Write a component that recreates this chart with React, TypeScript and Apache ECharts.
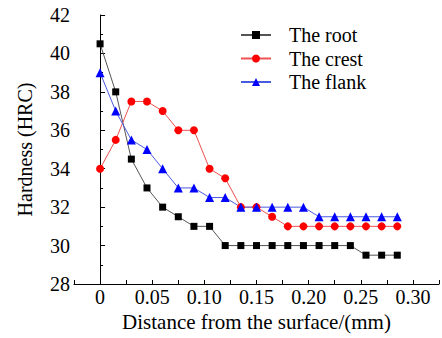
import React, { useEffect, useRef } from "react";
import * as echarts from "echarts";

const distances = [0, 0.015, 0.03, 0.045, 0.06, 0.075, 0.09, 0.105, 0.12, 0.135, 0.15, 0.165, 0.18, 0.195, 0.21, 0.225, 0.24, 0.255, 0.27, 0.285];
const rootValues = [40.5, 38, 34.5, 33, 32, 31.5, 31, 31, 30, 30, 30, 30, 30, 30, 30, 30, 30, 29.5, 29.5, 29.5];
const crestValues = [34, 35.5, 37.5, 37.5, 37, 36, 36, 34, 33.5, 32, 32, 31.5, 31, 31, 31, 31, 31, 31, 31, 31];
const flankValues = [39, 37, 35.5, 35, 34, 33, 33, 32.5, 32.5, 32, 32, 32, 32, 32, 31.5, 31.5, 31.5, 31.5, 31.5, 31.5];
const seriesNames = ["The root", "The crest", "The flank"];

const FONT = "Liberation Serif";
const FS = 20;

export default function App() {
  const ref = useRef<HTMLDivElement>(null);
  useEffect(() => {
    document.body.style.margin = "0";
    const chart = echarts.init(ref.current!, null, { renderer: "svg" });
    const pair = (vals: number[]) => distances.map((d, i) => [d, vals[i]]);
    chart.setOption({
      animation: false,
      grid: { left: 74, right: 1, top: 15, bottom: 54 },
      legend: {
        orient: "vertical",
        left: 240,
        top: 25,
        padding: 0,
        itemWidth: 30,
        itemHeight: 10,
        itemGap: 3.5,
        textStyle: { fontFamily: FONT, fontSize: FS, color: "#000", padding: [0, 0, 0, 13], lineHeight: 20 },
        data: seriesNames,
      },
      xAxis: {
        type: "value",
        min: -0.025,
        max: 0.325,
        interval: 0.025,
        splitLine: { show: false },
        axisLine: { onZero: false, lineStyle: { color: "#000", width: 1 } },
        axisTick: { inside: true, length: 4, lineStyle: { color: "#000" } },
        axisLabel: {
          fontFamily: FONT,
          fontSize: FS,
          color: "#000",
          margin: 3,
          showMinLabel: true,
          showMaxLabel: true,
          formatter: (v: number) => {
            const k = Math.round(v * 1000);
            if (k < 0 || k % 50 !== 0) return "";
            return k === 0 ? "0" : (k / 1000).toFixed(2);
          },
        },
        name: "Distance from the surface/(mm)",
        nameLocation: "middle",
        nameGap: 23,
        nameTextStyle: { fontFamily: FONT, fontSize: 21, color: "#000" },
      },
      yAxis: {
        type: "value",
        min: 28,
        max: 42,
        interval: 2,
        splitLine: { show: false },
        axisLine: { show: true, lineStyle: { color: "#000", width: 1 } },
        axisTick: { inside: true, length: 5, lineStyle: { color: "#000" } },
        minorTick: { show: true, splitNumber: 2, length: 3, lineStyle: { color: "#000" } },
        axisLabel: { fontFamily: FONT, fontSize: FS, color: "#000", margin: 4 },
        name: "Hardness (HRC)",
        nameLocation: "middle",
        nameGap: 39,
        nameTextStyle: { fontFamily: FONT, fontSize: FS, color: "#000" },
      },
      series: [
        {
          name: seriesNames[0],
          type: "line",
          data: pair(rootValues),
          symbol: "rect",
          symbolSize: 7,
          itemStyle: { color: "#000" },
          lineStyle: { color: "#555", width: 1 },
        },
        {
          name: seriesNames[1],
          type: "line",
          data: pair(crestValues),
          symbol: "circle",
          symbolSize: 8,
          itemStyle: { color: "#ff0000" },
          lineStyle: { color: "#f05050", width: 1 },
        },
        {
          name: seriesNames[2],
          type: "line",
          data: pair(flankValues),
          symbol: "triangle",
          symbolSize: 9,
          itemStyle: { color: "#0000ff" },
          lineStyle: { color: "#4a5ae0", width: 1 },
        },
      ],
    });
    return () => chart.dispose();
  }, []);
  return <div ref={ref} style={{ width: 442, height: 338 }} />;
}
